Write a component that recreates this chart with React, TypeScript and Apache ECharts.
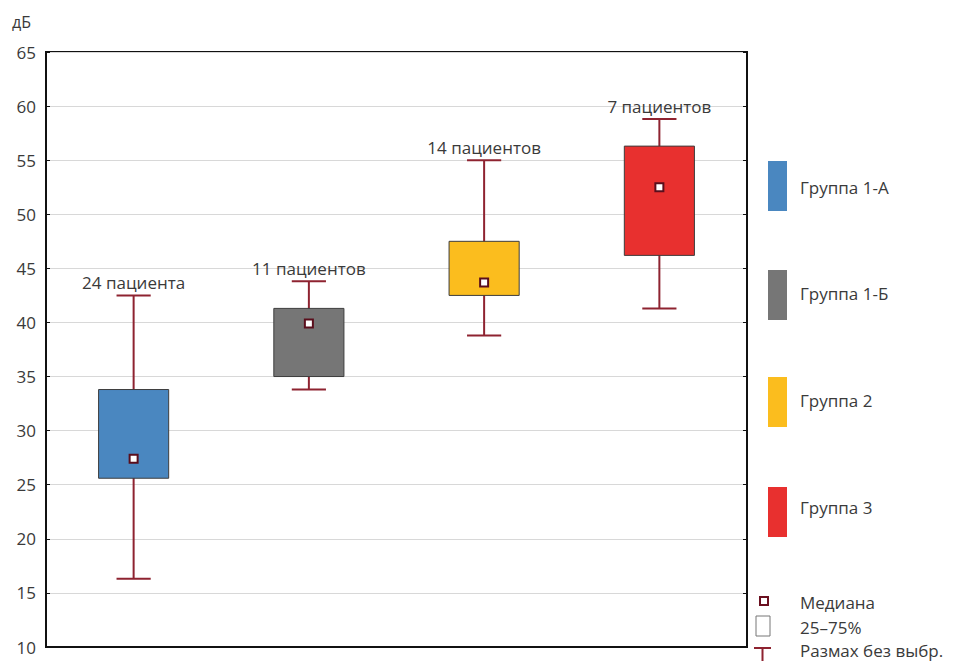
import React, { useEffect, useRef } from "react";
import * as echarts from "echarts";

const categories = ["Группа 1-А", "Группа 1-Б", "Группа 2", "Группа 3"];
const lowValues = [16.3, 33.8, 38.8, 41.3];
const q1Values = [25.6, 35.0, 42.5, 46.2];
const medianValues = [27.4, 39.9, 43.7, 52.5];
const q3Values = [33.8, 41.3, 47.5, 56.3];
const highValues = [42.5, 43.8, 55.0, 58.8];
const patientLabels = ["24 пациента", "11 пациентов", "14 пациентов", "7 пациентов"];
const boxColors = ["#4a87c0", "#767676", "#fbbd1e", "#e8302f"];
const legendExtra = ["Медиана", "25–75%", "Размах без выбр."];

const FONT = "'Open Sans', 'Noto Sans', sans-serif";
const WHISKER = "#8e2330";
const TEXT = "#3a3a3a";

export default function App() {
  const ref = useRef<HTMLDivElement>(null);
  useEffect(() => {
    if (!ref.current) return;
    const chart = echarts.init(ref.current, null, { renderer: "svg" });
    const data = categories.map((c, i) => [
      i,
      lowValues[i],
      q1Values[i],
      medianValues[i],
      q3Values[i],
      highValues[i],
    ]);

    const legendGraphics: any[] = [];
    const legendRectYs = [161, 270, 377, 487];
    const legendTextYs = [187, 293, 400, 507];
    categories.forEach((c, i) => {
      legendGraphics.push({
        type: "rect",
        shape: { x: 768, y: legendRectYs[i], width: 19, height: 50 },
        style: { fill: boxColors[i] },
      });
      legendGraphics.push({
        type: "text",
        x: 800,
        y: legendTextYs[i],
        style: { text: c, fill: TEXT, font: `17px ${FONT}`, textVerticalAlign: "middle" },
      });
    });
    legendGraphics.push({
      type: "rect",
      shape: { x: 760, y: 597, width: 8, height: 8 },
      style: { fill: "#fff", stroke: "#6b1020", lineWidth: 2 },
    });
    legendGraphics.push({
      type: "rect",
      shape: { x: 756, y: 616, width: 14, height: 20 },
      style: { fill: "#fff", stroke: "#777", lineWidth: 1 },
    });
    legendGraphics.push({
      type: "line",
      shape: { x1: 754, y1: 648, x2: 771, y2: 648 },
      style: { stroke: WHISKER, lineWidth: 2 },
    });
    legendGraphics.push({
      type: "line",
      shape: { x1: 762.5, y1: 648, x2: 762.5, y2: 662 },
      style: { stroke: WHISKER, lineWidth: 2 },
    });
    const extraYs = [602, 627, 650];
    legendExtra.forEach((t, i) => {
      legendGraphics.push({
        type: "text",
        x: 800,
        y: extraYs[i],
        style: { text: t, fill: TEXT, font: `17px ${FONT}`, textVerticalAlign: "middle" },
      });
    });
    legendGraphics.push({
      type: "text",
      x: 12,
      y: 22,
      style: { text: "дБ", fill: TEXT, font: `16px ${FONT}`, textVerticalAlign: "middle" },
    });

    chart.setOption({
      animation: false,
      backgroundColor: "#fff",
      grid: {
        left: 46,
        right: 208,
        top: 52,
        bottom: 14,
        show: true,
        borderColor: "#111",
        borderWidth: 2,
      },
      xAxis: {
        type: "category",
        data: categories,
        axisLine: { lineStyle: { color: "#111", width: 2 } },
        axisTick: { inside: true, alignWithLabel: true, length: 5, lineStyle: { color: "#111" } },
        axisLabel: { show: false },
        splitLine: { show: false },
      },
      yAxis: [
        {
          type: "value",
          min: 10,
          max: 65,
          interval: 5,
          axisLine: { show: true, lineStyle: { color: "#111", width: 2 } },
          axisTick: { show: true, inside: true, length: 4, lineStyle: { color: "#111" } },
          axisLabel: { color: TEXT, fontSize: 17, fontFamily: FONT, margin: 10 },
          splitLine: { show: true, lineStyle: { color: "#d8d8d8", width: 1 } },
        },
        {
          type: "value",
          position: "right",
          min: 10,
          max: 65,
          interval: 5,
          axisLine: { show: true, lineStyle: { color: "#111", width: 2 } },
          axisTick: { show: true, inside: true, length: 4, lineStyle: { color: "#111" } },
          axisLabel: { show: false },
          splitLine: { show: false },
        },
      ],
      graphic: legendGraphics,
      series: [
        {
          type: "custom",
          encode: { x: 0, y: [1, 2, 3, 4, 5] },
          data,
          z: 10,
          renderItem: (params: any, api: any) => {
            const idx = params.dataIndex;
            const x = api.value(0);
            const pLow = api.coord([x, api.value(1)]);
            const pQ1 = api.coord([x, api.value(2)]);
            const pMed = api.coord([x, api.value(3)]);
            const pQ3 = api.coord([x, api.value(4)]);
            const pHigh = api.coord([x, api.value(5)]);
            const band = api.size([1, 0])[0];
            const bw = band * 0.4;
            const cw = band * 0.195;
            const cx = pLow[0];
            return {
              type: "group",
              children: [
                {
                  type: "line",
                  shape: { x1: cx, y1: pHigh[1], x2: cx, y2: pLow[1] },
                  style: { stroke: WHISKER, lineWidth: 2 },
                },
                {
                  type: "line",
                  shape: { x1: cx - cw / 2, y1: pHigh[1], x2: cx + cw / 2, y2: pHigh[1] },
                  style: { stroke: WHISKER, lineWidth: 2 },
                },
                {
                  type: "line",
                  shape: { x1: cx - cw / 2, y1: pLow[1], x2: cx + cw / 2, y2: pLow[1] },
                  style: { stroke: WHISKER, lineWidth: 2 },
                },
                {
                  type: "rect",
                  shape: { x: cx - bw / 2, y: pQ3[1], width: bw, height: pQ1[1] - pQ3[1] },
                  style: { fill: boxColors[idx], stroke: "#3d3d3d", lineWidth: 1 },
                },
                {
                  type: "rect",
                  shape: { x: cx - 4, y: pMed[1] - 4, width: 8, height: 8 },
                  style: { fill: "#fff", stroke: "#5a0e1c", lineWidth: 2 },
                },
                {
                  type: "text",
                  x: cx,
                  y: pHigh[1] - 4,
                  style: {
                    text: patientLabels[idx],
                    fill: TEXT,
                    font: `17px ${FONT}`,
                    textAlign: "center",
                    textVerticalAlign: "bottom",
                  },
                },
              ],
            };
          },
        },
      ],
    });
    return () => chart.dispose();
  }, []);
  return <div ref={ref} style={{ width: 955, height: 661, position: "absolute", left: 0, top: 0 }} />;
}
